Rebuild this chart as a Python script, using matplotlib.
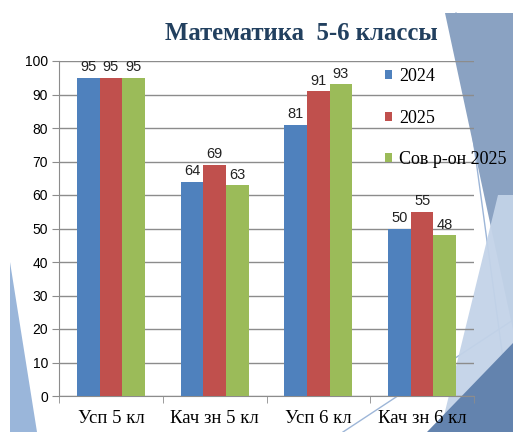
import numpy as np
import matplotlib.pyplot as plt
from matplotlib.patches import Polygon
from matplotlib.lines import Line2D

categories = ['Усп 5 кл', 'Кач зн 5 кл', 'Усп 6 кл', 'Кач зн 6 кл']
series_names = ['2024', '2025', 'Сов р-он 2025']
v2024 = [95, 64, 81, 50]
v2025 = [95, 69, 91, 55]
v_rayon = [95, 63, 93, 48]
colors = ['#4F81BD', '#C0504D', '#9BBB59']

W, H = 513, 432
fig = plt.figure(figsize=(W / 100, H / 100), dpi=100)


def px(pts):
    # pixel coords -> figure fraction
    return [(x / W, 1 - y / H) for x, y in pts]


# slide decorations
deco = [
    ([(10, 262), (10, 432), (37, 432)], '#8FAED6', 0.9),
    ([(445, 13), (513, 13), (513, 330)], '#8AA2C2', 1.0),
    ([(440, 432), (498, 195), (513, 195), (513, 432)], '#C3D3E8', 0.95),
    ([(427, 432), (513, 432), (513, 343)], '#6383AE', 1.0),
]
for pts, c, a in deco:
    fig.patches.append(Polygon(px(pts), closed=True, transform=fig.transFigure,
                               facecolor=c, edgecolor='none', alpha=a, zorder=0))
for (x0, y0), (x1, y1) in [((343, 432), (513, 320)), ((456, 13), (513, 432))]:
    fig.lines.append(Line2D([x0 / W, x1 / W], [1 - y0 / H, 1 - y1 / H],
                            transform=fig.transFigure, color='#9DB6D8', lw=1.0, zorder=0))

ax = fig.add_axes([59 / W, 1 - 396 / H, (474 - 59) / W, (396 - 61) / H], zorder=2)
ax.patch.set_alpha(0)

x = np.arange(len(categories))
w = 0.218
for i, (vals, name, c) in enumerate(zip([v2024, v2025, v_rayon], series_names, colors)):
    bars = ax.bar(x + (i - 1) * w, vals, w, color=c, label=name, zorder=3)
    for b, v in zip(bars, vals):
        ax.text(b.get_x() + b.get_width() / 2, v + 1.0, str(v), ha='center', va='bottom',
                fontsize=10.5, family='Liberation Sans', color='#222222', zorder=4)

ax.set_xlim(-0.5, 3.5)
ax.set_ylim(0, 100)
ax.set_yticks(range(0, 101, 10))
ax.yaxis.grid(True, color='#8C8C8C', lw=1.0, zorder=0)
for s in ['top', 'right']:
    ax.spines[s].set_visible(False)
for s in ['left', 'bottom']:
    ax.spines[s].set_color('#8C8C8C')
ax.set_xticks(x)
ax.set_xticklabels(categories, family='Liberation Serif', fontsize=13.5)
ax.set_xticks(np.arange(-0.5, 3.6, 1), minor=True)
ax.tick_params(axis='x', which='major', length=0, pad=10)
ax.tick_params(axis='x', which='minor', length=5, color='#8C8C8C')
ax.tick_params(axis='y', length=5, color='#8C8C8C', labelsize=10, pad=3)
for t in ax.get_yticklabels():
    t.set_family('Liberation Sans')

fig.text(301 / W, 1 - 33 / H, 'Математика  5-6 классы', ha='center', va='center',
         family='Liberation Serif', fontweight='bold', fontsize=17.8, color='#22405F')

fig.legend(loc='upper left', bbox_to_anchor=(369 / W, 1 - 52 / H), frameon=False,
           prop={'family': 'Liberation Serif', 'size': 13},
           handlelength=0.4, handleheight=0.4, handletextpad=0.35, labelspacing=1.35)

fig.savefig('out.png', dpi=100)
